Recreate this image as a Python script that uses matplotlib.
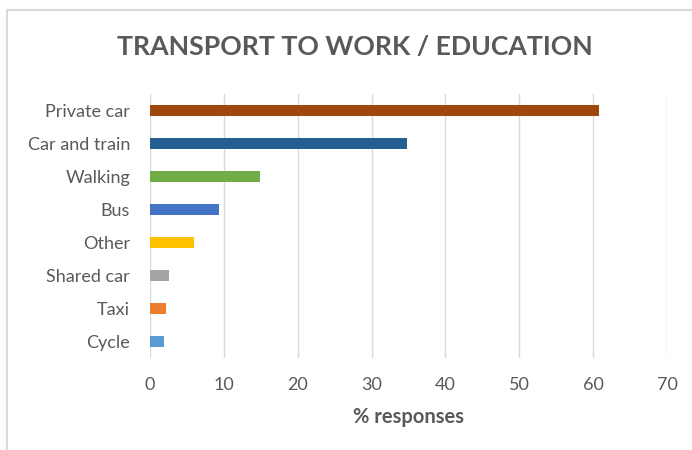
import matplotlib
matplotlib.use("Agg")
import matplotlib.pyplot as plt
import matplotlib.patches as mpatches

# -------------------------------
# data
# -------------------------------
modes = ["Private car", "Car and train", "Walking", "Bus", "Other",
         "Shared car", "Taxi", "Cycle"]
pct = [60.8, 34.8, 14.9, 9.4, 6.0, 2.6, 2.2, 1.9]
colors = ["#9E480E", "#255E91", "#70AD47", "#4472C4", "#FFC000",
          "#A5A5A5", "#ED7D31", "#5B9BD5"]
xticks = [0, 10, 20, 30, 40, 50, 60, 70]

plt.rcParams["font.family"] = ["Lato", "DejaVu Sans"]
txt = "#595959"

fig = plt.figure(figsize=(6.92, 4.5), dpi=100)
ax = fig.add_axes([150 / 692, 1 - 358 / 450, (667 - 150) / 692, (358 - 94) / 450])

# categories top to bottom
ypos = list(range(len(modes)))
ax.barh(ypos, pct, height=0.36, color=colors, zorder=3)
ax.set_ylim(len(modes) - 0.5, -0.5)
ax.set_xlim(0, 70)

ax.set_yticks(ypos)
ax.set_yticklabels(modes)
ax.set_xticks(xticks)
ax.tick_params(axis="both", length=0, labelsize=13, labelcolor=txt)
ax.tick_params(axis="y", pad=14.4)
ax.tick_params(axis="x", pad=14)

ax.grid(axis="x", color="#D9D9D9", linewidth=1, zorder=0)
for s in ax.spines.values():
    s.set_visible(False)

ax.set_xlabel("% responses", fontsize=14.5, fontweight="bold", color=txt, labelpad=10)
fig.text(355 / 692, 1 - 47 / 450, "TRANSPORT TO WORK / EDUCATION", ha="center",
         va="center", fontsize=19.2, fontweight="bold", color=txt)

# chart border (cropped at the right and bottom like the source)
fig.patches.append(mpatches.Rectangle((7 / 692, -0.1), 1.2, 1 - 10 / 450 + 0.1,
                                      transform=fig.transFigure, fill=False,
                                      edgecolor="#D9D9D9", linewidth=1.5))

fig.savefig("out.png", dpi=100)
